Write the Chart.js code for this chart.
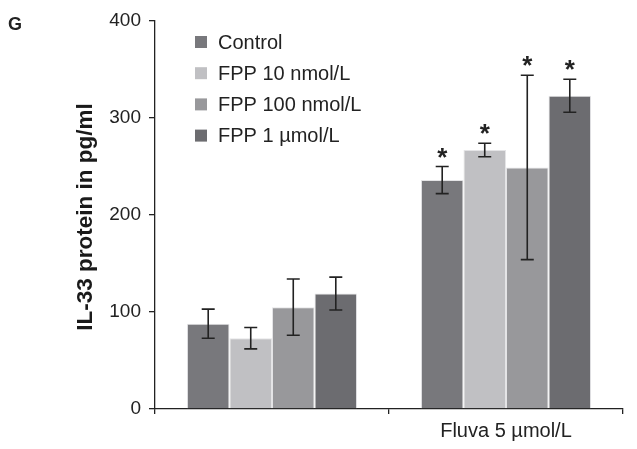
<!DOCTYPE html>
<html>
<head>
<meta charset="utf-8">
<script src="https://cdn.jsdelivr.net/npm/chart.js@4/dist/chart.umd.min.js"></script>
<style>
html,body{margin:0;padding:0;background:#fff;}
#wrap{width:637px;height:449px;position:relative;}
</style>
</head>
<body>
<div id="wrap"><canvas id="c" width="637" height="449"></canvas></div>
<script>
const categories = ["", "Fluva 5 µmol/L"];
const seriesNames = ["Control", "FPP 10 nmol/L", "FPP 100 nmol/L", "FPP 1 µmol/L"];
const control = [88, 236];
const fpp10 = [73, 267];
const fpp100 = [105, 249];
const fpp1u = [119, 323];
const errControl = [15, 14];
const errFpp10 = [11, 7];
const errFpp100 = [29, 95];
const errFpp1u = [17, 17];
const significant = [[false, true], [false, true], [false, true], [false, true]];
const yTicks = [0, 100, 200, 300, 400];

const colors = ["#78787c", "#c0c0c3", "#98989b", "#6c6c70"];
const values = [control, fpp10, fpp100, fpp1u];
const errors = [errControl, errFpp10, errFpp100, errFpp1u];

const FONT = "'Liberation Sans', Arial, sans-serif";

const errorPlugin = {
  id: 'errbars',
  afterDatasetsDraw(chart) {
    const ctx = chart.ctx;
    const y = chart.scales.y;
    chart.data.datasets.forEach((ds, i) => {
      const meta = chart.getDatasetMeta(i);
      meta.data.forEach((bar, j) => {
        const v = ds.data[j], e = errors[i][j];
        const x = bar.x;
        const yt = y.getPixelForValue(v + e), yb = y.getPixelForValue(v - e);
        ctx.save();
        ctx.strokeStyle = '#222';
        ctx.lineWidth = 1.6;
        ctx.beginPath();
        ctx.moveTo(x, yt); ctx.lineTo(x, yb);
        ctx.moveTo(x - 6.5, yt); ctx.lineTo(x + 6.5, yt);
        ctx.moveTo(x - 6.5, yb); ctx.lineTo(x + 6.5, yb);
        ctx.stroke();
        if (significant[i][j]) {
          ctx.fillStyle = '#222';
          ctx.font = "bold 26px " + FONT;
          ctx.textAlign = 'center';
          ctx.textBaseline = 'alphabetic';
          ctx.fillText('*', x, yt - 1);
        }
        ctx.restore();
      });
    });
  },
  afterDraw(chart) {
    const ctx = chart.ctx;
    ctx.save();
    // panel letter
    ctx.fillStyle = '#222';
    ctx.font = "bold 18px " + FONT;
    ctx.textAlign = 'left';
    ctx.textBaseline = 'middle';
    ctx.fillText('G', 8, 25);
    // y axis title
    ctx.save();
    ctx.translate(92, 217);
    ctx.rotate(-Math.PI / 2);
    ctx.font = "bold 22.5px " + FONT;
    ctx.textAlign = 'center';
    ctx.textBaseline = 'alphabetic';
    ctx.fillStyle = '#1a1a1a';
    ctx.fillText('IL-33 protein in pg/ml', 0, 0);
    ctx.restore();
    // legend
    ctx.font = "20px " + FONT;
    ctx.textBaseline = 'middle';
    ctx.textAlign = 'left';
    chart.data.datasets.forEach((ds, i) => {
      const yy = 42 + i * 31.2;
      ctx.fillStyle = ds.backgroundColor;
      ctx.fillRect(195, yy - 6, 12, 12);
      ctx.fillStyle = '#222';
      ctx.fillText(ds.label, 218, yy + 1);
    });
    ctx.restore();
  }
};

new Chart(document.getElementById('c'), {
  type: 'bar',
  data: {
    labels: categories,
    datasets: seriesNames.map((n, i) => ({
      label: n,
      data: values[i],
      backgroundColor: colors[i],
      borderColor: '#e4e4e6',
      borderWidth: 1,
      categoryPercentage: 0.727,
      barPercentage: 1.0
    }))
  },
  options: {
    responsive: false,
    animation: false,
    events: [],
    layout: { padding: { left: 0, right: 14, top: 21, bottom: 0 } },
    plugins: { legend: { display: false }, tooltip: { enabled: false } },
    scales: {
      x: {
        offset: true,
        grid: { display: true, offset: true, drawOnChartArea: false, drawTicks: true, tickLength: 5, color: '#222', lineWidth: 1.3 },
        border: { display: true, color: '#222', width: 1.3 },
        ticks: { color: '#222', font: { family: FONT, size: 20 }, padding: 5, maxRotation: 0 },
        afterFit(s) { s.height = 40; }
      },
      y: {
        min: 0, max: 400,
        afterBuildTicks(s) { s.ticks = yTicks.map(v => ({ value: v })); },
        grid: { display: true, drawOnChartArea: false, drawTicks: true, tickLength: 6, color: '#222', lineWidth: 1.3 },
        border: { display: true, color: '#222', width: 1.3 },
        ticks: { color: '#222', font: { family: FONT, size: 19 }, padding: 8 },
        afterFit(s) { s.width = 155; }
      }
    }
  },
  plugins: [errorPlugin]
});
</script>
</body>
</html>
